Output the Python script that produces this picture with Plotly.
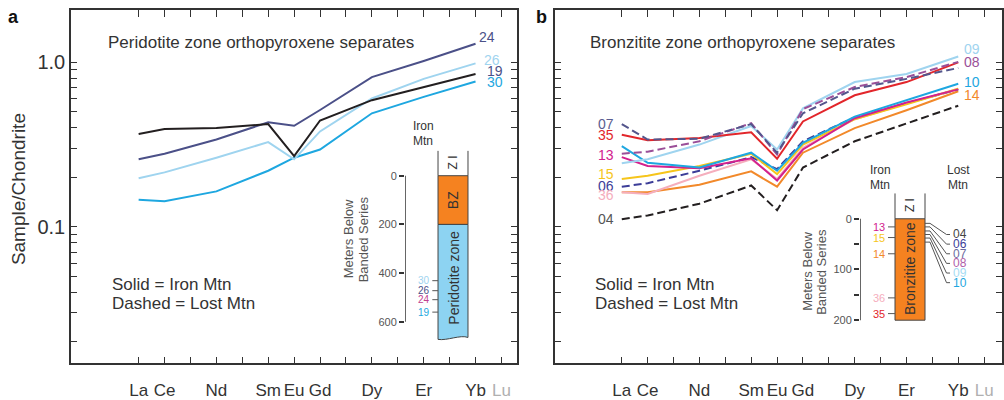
import plotly.graph_objects as go

W, H = 1004, 400
FONT = "Arial, Liberation Sans, sans-serif"
TXT = "#333333"


def px(x, y):
    return x / W, 1 - y / H


# ---------------- data ----------------
ree = ["La", "Ce", "Pr", "Nd", "Pm", "Sm", "Eu", "Gd", "Tb", "Dy", "Ho", "Er", "Tm", "Yb", "Lu"]
tick_text = ["La", "Ce", "", "Nd", "", "Sm", "Eu", "Gd", "", "Dy", "", "Er", "", "Yb",
             '<span style="color:#b0b0b0">Lu</span>']
plotted = ["La", "Ce", "Nd", "Sm", "Eu", "Gd", "Dy", "Er", "Yb"]

# Panel a: Peridotite zone (Iron Mtn, solid)
pz_19 = [0.366, 0.393, 0.398, 0.421, 0.269, 0.443, 0.589, 0.708, 0.851]
pz_24 = [0.257, 0.278, 0.339, 0.432, 0.411, 0.513, 0.813, 1.02, 1.30]
pz_26 = [0.197, 0.214, 0.263, 0.327, 0.257, 0.380, 0.603, 0.794, 0.986]
pz_30 = [0.146, 0.143, 0.164, 0.219, 0.263, 0.295, 0.490, 0.617, 0.765]

# Panel b: Bronzitite zone (solid = Iron Mtn, dashed = Lost Mtn)
bz_04 = [0.111, 0.117, 0.138, 0.178, 0.126, 0.229, 0.331, 0.427, 0.545]
bz_06 = [0.175, 0.184, 0.219, 0.265, 0.224, 0.331, 0.463, 0.562, 0.685]
bz_07 = [0.421, 0.339, 0.343, 0.421, 0.282, 0.490, 0.692, 0.794, 0.925]
bz_08 = [0.278, 0.286, 0.331, 0.427, 0.275, 0.520, 0.708, 0.813, 1.008]
bz_09 = [0.243, 0.257, 0.316, 0.410, 0.295, 0.525, 0.759, 0.851, 1.086]
bz_10 = [0.309, 0.245, 0.229, 0.282, 0.219, 0.324, 0.468, 0.586, 0.741]
bz_13 = [0.265, 0.234, 0.227, 0.261, 0.191, 0.295, 0.457, 0.570, 0.685]
bz_14 = [0.162, 0.162, 0.180, 0.217, 0.175, 0.282, 0.398, 0.511, 0.667]
bz_15 = [0.195, 0.204, 0.234, 0.278, 0.209, 0.316, 0.451, 0.555, 0.692]
bz_35 = [0.363, 0.336, 0.347, 0.375, 0.259, 0.437, 0.631, 0.759, 1.000]
bz_36 = [0.162, 0.158, 0.204, 0.257, 0.195, 0.302, 0.451, 0.562, 0.692]

# Inset columns (meters below Banded Series)
pz_samples = ["30", "26", "24", "19"]
pz_depths = [431, 472, 509, 560]
bz_iron_samples = ["13", "15", "14", "36", "35"]
bz_iron_depths = [16, 37, 69, 156, 187]
bz_lost_samples = ["04", "06", "07", "08", "09", "10"]
bz_lost_depths = [9, 16, 24, 31, 38, 46]

y_ticks = [0.02, 0.03, 0.04, 0.05, 0.06, 0.07, 0.08, 0.09, 0.1,
           0.2, 0.3, 0.4, 0.5, 0.6, 0.7, 0.8, 0.9, 1.0]
y_ticktext = ["0.1" if v == 0.1 else ("1.0" if v == 1.0 else "") for v in y_ticks]

# ---------------- colours ----------------
C = {
    "black": "#231f20", "navy": "#4b5088", "lblue": "#9fd4ef", "cyan": "#1ea7e0",
    "red": "#e2262b", "magenta": "#d2218e", "yellow": "#f6c51b", "orange": "#f2892a",
    "pink": "#f5aebd", "blue06": "#3c3d98", "slate07": "#54568c", "purple08": "#9a4f98",
}

fig = go.Figure()
xa = [ree.index(e) for e in plotted]


def add_line(vals, color, dash, ax):
    fig.add_trace(go.Scatter(
        x=xa, y=vals, mode="lines", xaxis="x" + ax, yaxis="y" + ax,
        line=dict(color=color, width=2, dash=dash),
        showlegend=False, hoverinfo="skip"))


# panel a
add_line(pz_30, C["cyan"], "solid", "")
add_line(pz_26, C["lblue"], "solid", "")
add_line(pz_24, C["navy"], "solid", "")
add_line(pz_19, C["black"], "solid", "")

# panel b
DASH = "8px,4px"
add_line(bz_04, C["black"], DASH, "2")
add_line(bz_14, C["orange"], "solid", "2")
add_line(bz_36, C["pink"], "solid", "2")
add_line(bz_06, C["blue06"], DASH, "2")
add_line(bz_15, C["yellow"], "solid", "2")
add_line(bz_13, C["magenta"], "solid", "2")
add_line(bz_10, C["cyan"], "solid", "2")
add_line(bz_09, C["lblue"], "solid", "2")
add_line(bz_35, C["red"], "solid", "2")
add_line(bz_08, C["purple08"], DASH, "2")
add_line(bz_07, C["slate07"], DASH, "2")

# ---------------- axes ----------------
xcommon = dict(tickmode="array", tickvals=list(range(len(ree))), ticktext=tick_text,
               ticks="inside", ticklen=7, tickwidth=1.3, tickcolor="#333", tickangle=0,
               showline=True, linecolor="#333", linewidth=1.6, mirror="ticks",
               showgrid=False, zeroline=False, ticklabelstandoff=10,
               tickfont=dict(size=17, color=TXT, family=FONT))
ycommon = dict(type="log", range=[-1.833, 0.320], tickmode="array", tickvals=y_ticks,
               ticktext=y_ticktext, ticks="inside", ticklen=6, tickwidth=1.3, tickcolor="#333",
               showline=True, linecolor="#333", linewidth=1.6, mirror="ticks",
               showgrid=False, zeroline=False,
               tickfont=dict(size=20, color=TXT, family=FONT))

ydom = [1 - 369 / H, 1 - 10 / H]
fig.update_layout(
    xaxis=dict(domain=[71 / W, 517 / W], range=[-2.61, 14.6], anchor="y", **xcommon),
    yaxis=dict(domain=ydom, anchor="x", **ycommon),
    xaxis2=dict(domain=[555 / W, 1002 / W], range=[-2.58, 14.69], anchor="y2", **xcommon),
    yaxis2=dict(domain=ydom, anchor="x2", showticklabels=False, **ycommon),
    # inset a
    xaxis3=dict(domain=[405 / W, 470 / W], range=[0, 1], anchor="y3", visible=False),
    yaxis3=dict(domain=[1 - 350 / H, 1 - 145 / H], range=[694, -135], anchor="x3",
                tickmode="array", tickvals=[0, 200, 400, 600], ticks="outside", ticklen=5,
                tickcolor="#333", tickwidth=1.5, showline=False, showgrid=False, zeroline=False,
                tickfont=dict(size=11, color="#555", family=FONT)),
    # inset b
    xaxis4=dict(domain=[860 / W, 960 / W], range=[0, 1], anchor="y4", visible=False),
    yaxis4=dict(domain=[1 - 335 / H, 1 - 190 / H], range=[219.3, -62.4], anchor="x4",
                tickmode="array", tickvals=[0, 50, 100, 150, 200],
                ticktext=["0", "", "100", "", "200"], ticks="outside", ticklen=5,
                tickcolor="#333", tickwidth=1.5, showline=False, showgrid=False, zeroline=False,
                tickfont=dict(size=11, color="#555", family=FONT)),
    width=W, height=H, margin=dict(l=0, r=0, t=0, b=0),
    paper_bgcolor="white", plot_bgcolor="white",
    font=dict(family=FONT, color=TXT),
)

ORANGE = "#f58220"
PBLUE = "#8dd3f2"
EDGE = "#444444"
shapes = []
ann = []


def text(x, y, s, size, color=TXT, xanchor="center", yanchor="middle", angle=0,
         xref="paper", yref="paper", bold=False):
    if bold:
        s = "<b>" + s + "</b>"
    ann.append(dict(x=x, y=y, xref=xref, yref=yref, text=s, showarrow=False,
                    xanchor=xanchor, yanchor=yanchor, textangle=angle,
                    font=dict(size=size, color=color, family=FONT)))


def ptext(xp, yp, s, size, **kw):
    x, y = px(xp, yp)
    text(x, y, s, size, **kw)


# ---- inset a column ----
shapes.append(dict(type="line", xref="x3", yref="y3", x0=0, x1=0, y0=0, y1=600,
                   line=dict(color="#333", width=1.5)))
for xx in (0.508, 0.969):
    shapes.append(dict(type="line", xref="x3", yref="y3", x0=xx, x1=xx, y0=-102, y1=0,
                       line=dict(color=EDGE, width=1)))
shapes.append(dict(type="rect", xref="x3", yref="y3", x0=0.508, x1=0.969, y0=0, y1=200,
                   fillcolor=ORANGE, line=dict(color=EDGE, width=1)))
shapes.append(dict(type="path", xref="x3", yref="y3",
                   path="M 0.508 200 L 0.969 200 L 0.969 664 C 0.85 652, 0.65 678, 0.508 672 Z",
                   fillcolor=PBLUE, line=dict(color=EDGE, width=1)))
pz_label_colors = [C["lblue"], C["navy"], "#c1428f", C["cyan"]]
for s, d, col in zip(pz_samples, pz_depths, pz_label_colors):
    shapes.append(dict(type="line", xref="x3", yref="y3", x0=0.42, x1=0.508, y0=d, y1=d,
                       line=dict(color="#555", width=1)))
    text(0.41, d, s, 10, color=col, xanchor="right", xref="x3", yref="y3")
text(0.74, 100, "BZ", 14, angle=-90, xref="x3", yref="y3")
text(0.74, 418, "Peridotite zone", 14, angle=-90, xref="x3", yref="y3")
text(0.74, -55, "Z I", 12, angle=-90, xref="x3", yref="y3")
ptext(423, 128, "Iron", 12)
ptext(423, 143, "Mtn", 12)
ptext(348, 243, "Meters Below", 13, angle=-90, color="#555")
ptext(363, 243, "Banded Series", 13, angle=-90, color="#555")

# ---- inset b column ----
shapes.append(dict(type="line", xref="x4", yref="y4", x0=0, x1=0, y0=0, y1=200,
                   line=dict(color="#333", width=1.5)))
for xx in (0.35, 0.65):
    shapes.append(dict(type="line", xref="x4", yref="y4", x0=xx, x1=xx, y0=-50, y1=0,
                       line=dict(color=EDGE, width=1)))
shapes.append(dict(type="rect", xref="x4", yref="y4", x0=0.35, x1=0.65, y0=0, y1=200,
                   fillcolor=ORANGE, line=dict(color=EDGE, width=1)))
text(0.5, 99, "Bronzitite zone", 14, angle=-90, xref="x4", yref="y4")
text(0.5, -27, "Z I", 12, angle=-90, xref="x4", yref="y4")
iron_cols = [C["magenta"], C["yellow"], C["orange"], C["pink"], C["red"]]
for s, d, col in zip(bz_iron_samples, bz_iron_depths, iron_cols):
    shapes.append(dict(type="line", xref="x4", yref="y4", x0=0.28, x1=0.35, y0=d, y1=d,
                       line=dict(color="#555", width=1)))
    text(0.27, d, s, 11, color=col, xanchor="right", xref="x4", yref="y4")
lost_cols = ["#444444", C["blue06"], "#6a6c9e", "#b05ea8", "#a6dcf3", C["cyan"]]
for i, (s, d, col) in enumerate(zip(bz_lost_samples, bz_lost_depths, lost_cols)):
    dl = 31 + 19 * i
    shapes.append(dict(type="path", xref="x4", yref="y4",
                       path=f"M 0.65 {d} L 0.70 {d} L 0.865 {dl} L 0.90 {dl}",
                       line=dict(color="#555", width=1)))
    text(0.91, dl, s, 12, color=col, xanchor="left", xref="x4", yref="y4")
ptext(880, 173, "Iron", 12)
ptext(880, 188, "Mtn", 12)
ptext(958, 173, "Lost", 12)
ptext(958, 188, "Mtn", 12)
ptext(808, 276, "Meters Below", 13, angle=-90, color="#555")
ptext(822, 276, "Banded Series", 13, angle=-90, color="#555")

# ---- panel texts ----
ptext(13, 17, "a", 18, bold=True, color="#111")
ptext(541, 17, "b", 18, bold=True, color="#111")
ptext(18, 192, "Sample/Chondrite", 19, angle=-90)
ptext(106, 43, "Peridotite zone orthopyroxene separates", 17, xanchor="left")
ptext(588, 43, "Bronzitite zone orthopyroxene separates", 17, xanchor="left")
for xl in (110, 593):
    ptext(xl, 289, "Solid = Iron Mtn", 17, xanchor="left")
    ptext(xl, 308, "Dashed = Lost Mtn", 17, xanchor="left")

# end labels panel a
ptext(477, 38, "24", 14, xanchor="left", color=C["navy"])
ptext(482, 61, "26", 14, xanchor="left", color=C["lblue"])
ptext(485, 72, "19", 14, xanchor="left", color=C["navy"])
ptext(485, 83, "30", 14, xanchor="left", color=C["cyan"])

# start labels panel b
for s, y, col in [("07", 126, "#5a5d90"), ("35", 137, C["red"]), ("13", 157, C["magenta"]),
                  ("15", 177, C["yellow"]), ("06", 189, C["blue06"]), ("36", 198, C["pink"]),
                  ("04", 222, "#555555")]:
    ptext(616, y, s, 14, xanchor="right", color=col)
for s, y, col in [("09", 50, C["lblue"]), ("08", 63, C["purple08"]),
                  ("10", 83, C["cyan"]), ("14", 96, C["orange"])]:
    ptext(962, y, s, 14, xanchor="left", color=col)

fig.update_layout(shapes=shapes, annotations=ann)
fig.write_html("out.html", config={"displayModeBar": False},
               post_script="document.body.style.margin='0';document.body.style.overflow='hidden';")
